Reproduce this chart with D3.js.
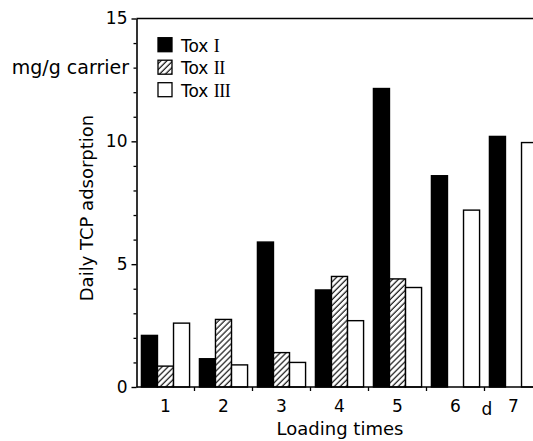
<!DOCTYPE html>
<html>
<head>
<meta charset="utf-8">
<script src="https://cdn.jsdelivr.net/npm/d3@7"></script>
<style>
  html, body { margin: 0; padding: 0; background: #fff; }
  svg { display: block; }
  text { font-family: "DejaVu Sans", sans-serif; fill: #000; }
</style>
</head>
<body>
<svg id="chart" width="533" height="441"></svg>
<script>
// Loading times (groups) and daily TCP adsorption per toxicant, mg/g carrier
const categories = ["1", "2", "3", "4", "5", "6", "7"];
const seriesNames = ["Tox I", "Tox II", "Tox III"];
const toxI   = [2.1, 1.15, 5.9, 3.95, 12.15, 8.6, 10.2];
const toxII  = [0.85, 2.75, 1.4, 4.5, 4.4, null, null];
const toxIII = [2.6, 0.9, 1.0, 2.7, 4.05, 7.2, 9.95];
const yMajorTicks = [0, 5, 10, 15];
const yMinorTicks = [1, 2, 3, 4, 6, 7, 8, 9, 11, 12, 13, 14];

const svg = d3.select("#chart");
const W = 533, H = 441;
const plotLeft = 136.5, plotBase = 387, plotTop = 18.5;

// hatch for the second series
const defs = svg.append("defs");
defs.append("pattern")
  .attr("id", "hatch")
  .attr("patternUnits", "userSpaceOnUse")
  .attr("width", 4.2).attr("height", 4.2)
  .attr("patternTransform", "rotate(45)")
  .call(p => {
    p.append("rect").attr("width", 4.2).attr("height", 4.2).attr("fill", "#fff");
    p.append("line").attr("x1", 1).attr("y1", 0).attr("x2", 1).attr("y2", 4.2)
      .attr("stroke", "#000").attr("stroke-width", 1.1);
  });

const fills = { "Tox I": "#000", "Tox II": "url(#hatch)", "Tox III": "#fff" };

const x0 = d3.scaleBand()
  .domain(categories)
  .range([plotLeft, plotLeft + 7 * 58])
  .paddingInner(0.17)
  .paddingOuter(0.085);

const x1 = d3.scaleBand()
  .domain(seriesNames)
  .range([0, x0.bandwidth()]);

const y = d3.scaleLinear().domain([0, 15]).range([plotBase, plotTop]);

const rows = categories.map((c, i) => ({
  cat: c,
  vals: [
    { s: "Tox I", v: toxI[i] },
    { s: "Tox II", v: toxII[i] },
    { s: "Tox III", v: toxIII[i] }
  ].filter(d => d.v != null)
}));

// bars
const g = svg.append("g");
g.selectAll("g.grp")
  .data(rows)
  .join("g")
  .attr("class", "grp")
  .attr("transform", d => `translate(${x0(d.cat)},0)`)
  .selectAll("rect")
  .data(d => d.vals)
  .join("rect")
  .attr("x", d => x1(d.s))
  .attr("y", d => y(d.v))
  .attr("width", x1.bandwidth())
  .attr("height", d => y(0) - y(d.v))
  .attr("fill", d => fills[d.s])
  .attr("stroke", "#000")
  .attr("stroke-width", 1.4);

// top frame line
svg.append("line")
  .attr("x1", plotLeft).attr("x2", W + 5)
  .attr("y1", y(15)).attr("y2", y(15))
  .attr("stroke", "#000").attr("stroke-width", 1.5);

// y axis: minor ticks
svg.append("g")
  .attr("transform", `translate(${plotLeft},0)`)
  .call(d3.axisLeft(y).tickValues(yMinorTicks).tickSize(3).tickSizeOuter(0).tickFormat(""))
  .call(a => a.select(".domain").remove())
  .call(a => a.selectAll("line").attr("stroke-width", 1.3));

// y axis: major ticks and labels
svg.append("g")
  .attr("transform", `translate(${plotLeft},0)`)
  .call(d3.axisLeft(y).tickValues(yMajorTicks).tickSize(5).tickSizeOuter(0).tickPadding(4))
  .call(a => a.select(".domain").attr("stroke-width", 1.6))
  .call(a => a.selectAll("line").attr("stroke-width", 1.4))
  .call(a => a.selectAll("text")
    .attr("font-family", "DejaVu Sans, sans-serif")
    .attr("font-size", 17)
    .attr("fill", "#000"));

// x axis: baseline, group labels and separator ticks
const xAxis = svg.append("g")
  .attr("transform", `translate(0,${plotBase})`)
  .call(d3.axisBottom(x0).tickSize(0).tickPadding(13).tickSizeOuter(0))
  .call(a => a.select(".domain").attr("d", `M${plotLeft},0H${W + 5}`).attr("stroke-width", 1.6))
  .call(a => a.selectAll("text")
    .attr("font-family", "DejaVu Sans, sans-serif")
    .attr("font-size", 17)
    .attr("fill", "#000"));

const gap = x0.step() * x0.paddingInner();
const seps = categories.slice(1).map(c => x0(c) - gap / 2);
xAxis.selectAll("line.sep")
  .data(seps)
  .join("line")
  .attr("class", "sep")
  .attr("x1", d => d).attr("x2", d => d)
  .attr("y1", 0).attr("y2", 4)
  .attr("stroke", "#000").attr("stroke-width", 1.3);

// day marker between 6 and 7
svg.append("text")
  .attr("x", seps[5] + 2.5)
  .attr("y", plotBase + 28)
  .attr("text-anchor", "middle")
  .attr("font-size", 17)
  .text("d");

// axis titles
svg.append("text")
  .attr("x", 340)
  .attr("y", 435)
  .attr("text-anchor", "middle")
  .attr("font-size", 18)
  .text("Loading times");

svg.append("text")
  .attr("transform", "translate(93,208) rotate(-90)")
  .attr("text-anchor", "middle")
  .attr("font-size", 18)
  .text("Daily TCP adsorption");

svg.append("text")
  .attr("x", 129)
  .attr("y", 74)
  .attr("text-anchor", "end")
  .attr("font-size", 19)
  .text("mg/g carrier");

// legend
const numerals = { "Tox I": "I", "Tox II": "II", "Tox III": "III" };
const legend = svg.append("g");
const items = legend.selectAll("g")
  .data(seriesNames)
  .join("g")
  .attr("transform", (d, i) => `translate(158,${51.7 + i * 22.5})`);
items.append("rect")
  .attr("x", 0).attr("y", -14)
  .attr("width", 14).attr("height", 14)
  .attr("fill", d => fills[d])
  .attr("stroke", "#000").attr("stroke-width", 1.3);
const lt = items.append("text")
  .attr("x", 23).attr("y", 0)
  .attr("font-size", 17);
lt.append("tspan").text("Tox ");
lt.append("tspan")
  .attr("font-family", "Liberation Serif, DejaVu Serif, serif")
  .attr("font-size", 18)
  .attr("letter-spacing", -0.6)
  .text(d => numerals[d]);
</script>
</body>
</html>
